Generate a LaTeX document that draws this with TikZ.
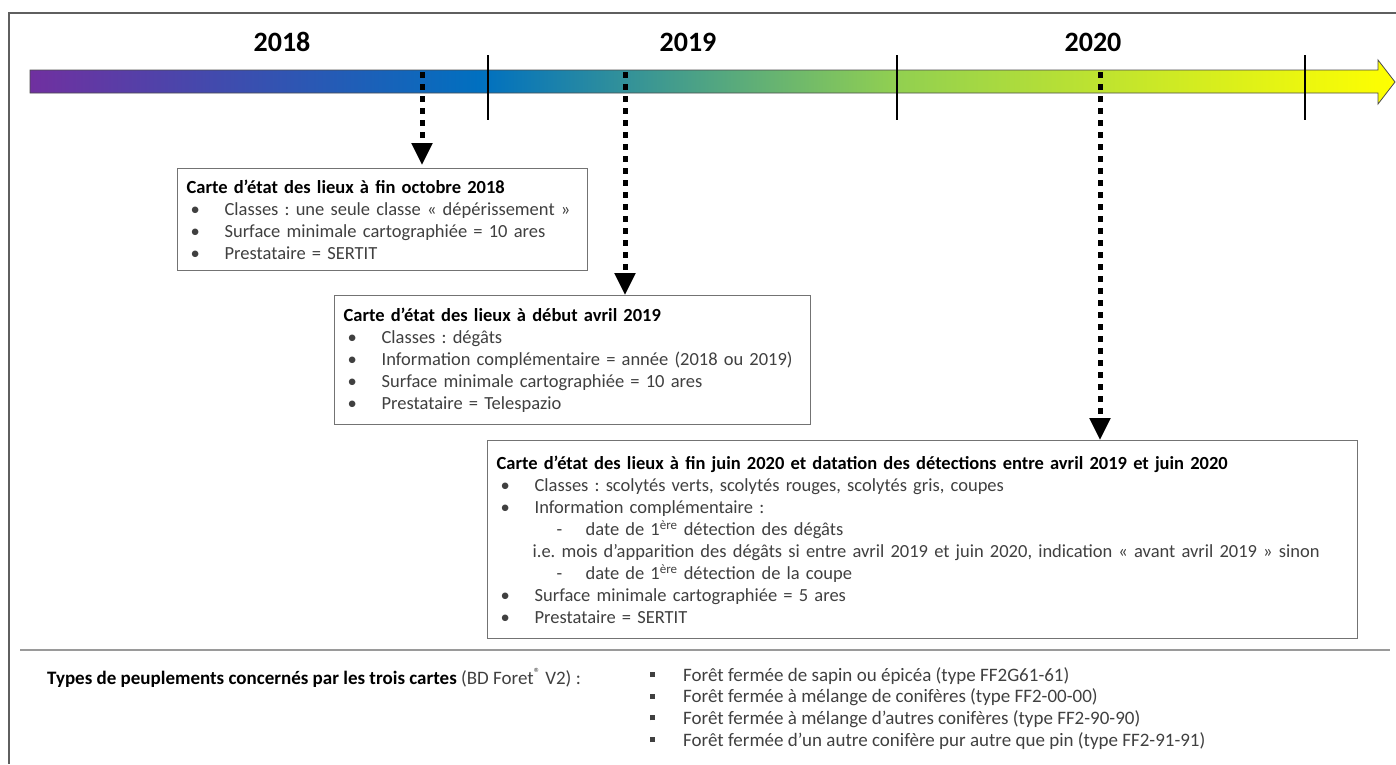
\documentclass[tikz,border=0pt]{standalone}
\usepackage{fontspec}
\setmainfont{Carlito}
\usetikzlibrary{arrows.meta,positioning}

\definecolor{tlpurple}{HTML}{7030A0}
\definecolor{tlblue}{HTML}{0070C0}
\definecolor{tlgreen}{HTML}{92D050}
\definecolor{tlyellow}{HTML}{FFFF00}
\definecolor{framegray}{HTML}{5F5F5F}
\definecolor{sepgray}{HTML}{9A9A9A}
\definecolor{textgray}{HTML}{404040}

\pgfdeclarehorizontalshading{timeline}{100bp}{color(0bp)=(tlpurple); color(25bp)=(tlpurple); color(41.5bp)=(tlblue); color(56.8bp)=(tlgreen); color(75bp)=(tlyellow); color(100bp)=(tlyellow)}

\newcommand\itm[1]{\hspace*{4pt}\makebox[34pt][l]{•}#1}
\newcommand\subitm[1]{\hspace*{60pt}\makebox[29pt][l]{-}#1}
\newcommand\carre{\hspace*{4pt}\makebox[33pt][l]{\rule[0.22em]{5pt}{5pt}}}
\newcommand\titre[1]{\textbf{\textcolor{black}{#1}}}
\frenchspacing

\begin{document}
\begin{tikzpicture}[x=1pt, y=-1pt,
    carte/.style={draw=black!55, line width=1.2pt, fill=white, anchor=north west,
      align=left, inner xsep=9pt, inner ysep=0pt, text=textgray,
      font=\fontsize{18.5}{22}\selectfont},
    year/.style={font=\bfseries\fontsize{28}{30}\selectfont},
    tick/.style={line width=1.2pt},
    jalon/.style={line width=5pt, dash pattern=on 6pt off 6pt,
      -{Triangle[length=22pt,width=20pt]}}]
    \useasboundingbox (0,0) rectangle (1396,764);

    % Frame
    \draw[framegray, line width=2.5pt] (1396,13) -- (9,13) -- (9,764);

    % Timeline
    \shadedraw[shading=timeline, draw=black!70, line width=0.8pt]
      (30,70) -- (1378,70) -- (1378,60) -- (1395,82) -- (1378,104) -- (1378,93) -- (30,93) -- cycle;
    \draw[tick] (488,55) -- (488,120);
    \draw[tick] (897,55) -- (897,120);
    \draw[tick] (1305,55) -- (1305,120);

    \node[year] (y18) at (282,42) {2018};
    \node[year] (y19) at (688,42) {2019};
    \node[year] (y20) at (1093,42) {2020};

    \coordinate (t18) at (422,72);
    \coordinate (t19) at (625,72);
    \coordinate (t20) at (1100,72);

    % Maps
    \node[carte, text width=392pt, minimum height=102pt] (c18) at (177,168) {%
      \titre{Carte d’état des lieux à fin octobre 2018}\\
      \itm{Classes : une seule classe «~dépérissement~»}\\
      \itm{Surface minimale cartographiée = 10 ares}\\
      \itm{Prestataire = SERTIT}};

    \node[carte, text width=458pt, minimum height=129pt] (c19) at (334,295) {%
      \titre{Carte d’état des lieux à début avril 2019}\\
      \itm{Classes : dégâts}\\
      \itm{Information complémentaire = année (2018 ou 2019)}\\
      \itm{Surface minimale cartographiée = 10 ares}\\
      \itm{Prestataire = Telespazio}};

    \node[carte, text width=852pt, minimum height=198pt] (c20) at (487,440) {%
      \titre{Carte d’état des lieux à fin juin 2020 et datation des détections entre avril 2019 et juin 2020}\\
      \itm{Classes : scolytés verts, scolytés rouges, scolytés gris, coupes}\\
      \itm{Information complémentaire :}\\
      \subitm{date de 1\textsuperscript{ère} détection des dégâts}\\
      \hspace*{36pt}i.e. mois d’apparition des dégâts si entre avril 2019 et juin 2020, indication «~avant avril 2019~» sinon\\
      \subitm{date de 1\textsuperscript{ère} détection de la coupe}\\
      \itm{Surface minimale cartographiée = 5 ares}\\
      \itm{Prestataire = SERTIT}};

    % Arrows
    \draw[jalon, shorten >=3pt] (t18) -- (t18 |- c18.north);
    \draw[jalon] (t19) -- (t19 |- c19.north);
    \draw[jalon] (t20) -- (t20 |- c20.north);

    % Stand types
    \draw[sepgray, line width=2pt] (20,650) -- (1390,650);
    \node[anchor=west, inner sep=0pt, text=textgray, font=\fontsize{19}{22}\selectfont] (types) at (47,678)
      {\titre{Types de peuplements concernés par les trois cartes} (BD Foret\textsuperscript{®} V2) :};
    \node[anchor=north west, align=left, inner sep=0pt, text=textgray,
      font=\fontsize{19}{21.7}\selectfont] (peuplements) at (646,667) {%
      \carre Forêt fermée de sapin ou épicéa (type FF2G61-61)\\
      \carre Forêt fermée à mélange de conifères (type FF2-00-00)\\
      \carre Forêt fermée à mélange d’autres conifères (type FF2-90-90)\\
      \carre Forêt fermée d’un autre conifère pur autre que pin (type FF2-91-91)};
\end{tikzpicture}
\end{document}
